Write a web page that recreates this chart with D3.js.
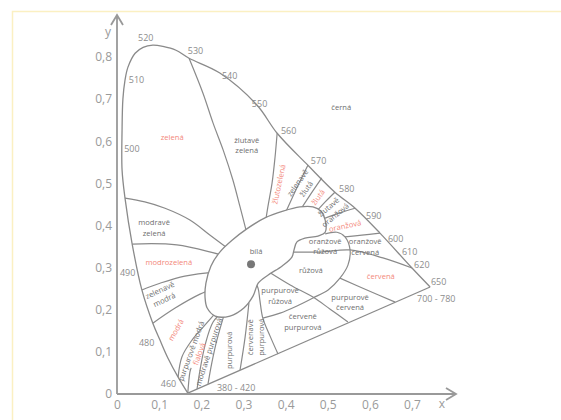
<!DOCTYPE html>
<html><head><meta charset="utf-8">
<script src="https://cdn.jsdelivr.net/npm/d3@7"></script>
<style>body{margin:0;background:#fff}svg{display:block}</style>
</head><body><svg width="561" height="420"></svg>
<script>
// ---- data (CIE 1931 x,y chromaticity) ----
const xTicks = [0,0.1,0.2,0.3,0.4,0.5,0.6,0.7];
const yTicks = [0,0.1,0.2,0.3,0.4,0.5,0.6,0.7,0.8];

const locusX = [0.743,0.700,0.624,0.565,0.517,0.453,0.380,0.332,0.244,0.171,0.140,0.109,0.085,0.062,0.043,0.026,0.019,0.014,0.012,0.012,0.019,0.036,0.059,0.085,0.102,0.121,0.145,0.168];
const locusY = [0.254,0.299,0.382,0.441,0.479,0.543,0.619,0.686,0.762,0.797,0.816,0.825,0.828,0.823,0.809,0.776,0.745,0.700,0.626,0.532,0.465,0.356,0.247,0.168,0.128,0.085,0.040,0.002];

const wlText = ["520","530","540","550","560","570","580","590","600","610","620","650","700 - 780","510","500","490","480","460","380 - 420"];
const wlX = [0.050,0.168,0.249,0.320,0.389,0.460,0.527,0.591,0.643,0.676,0.705,0.745,0.712,0.028,0.017,0.007,0.052,0.104,0.237];
const wlY = [0.845,0.814,0.755,0.688,0.624,0.553,0.486,0.422,0.368,0.337,0.306,0.266,0.225,0.745,0.581,0.287,0.121,0.024,0.014];

const blobX = [0.209,0.211,0.223,0.244,0.273,0.308,0.351,0.394,0.434,0.465,0.484,0.494,0.494,0.477,0.446,0.427,0.420,0.415,0.392,0.358,0.335,0.323,0.301,0.268,0.233,0.214];
const blobY = [0.228,0.263,0.304,0.337,0.365,0.392,0.418,0.434,0.444,0.444,0.434,0.413,0.384,0.375,0.370,0.361,0.342,0.325,0.304,0.282,0.263,0.233,0.204,0.185,0.185,0.204];

const pinkOuter = [[0.494,0.380],[0.522,0.384],[0.541,0.373],[0.553,0.342],[0.548,0.306],[0.529,0.275],[0.501,0.247],[0.465,0.228],[0.427,0.209],[0.387,0.192],[0.346,0.180]];

const bGreen      = [[0.171,0.797],[0.204,0.714],[0.228,0.643],[0.252,0.579],[0.275,0.508],[0.292,0.444],[0.311,0.370]];
const bYelGreen   = [[0.380,0.619],[0.375,0.562],[0.368,0.501],[0.358,0.444],[0.351,0.399]];
const bYG         = [[0.453,0.543],[0.430,0.496],[0.392,0.413]];
const bGY         = [[0.486,0.513],[0.460,0.475],[0.427,0.425]];
const bYellow     = [[0.517,0.479],[0.494,0.456],[0.463,0.422]];
const bYO         = [[0.565,0.441],[0.529,0.430],[0.482,0.413]];
const bOrange     = [[0.624,0.382],[0.581,0.377],[0.541,0.373]];
const bRedOrange  = [[0.406,0.337],[0.482,0.337],[0.553,0.342],[0.631,0.323],[0.700,0.299]];
const bRed        = [[0.529,0.275],[0.593,0.247],[0.660,0.218]];
const bPurpRed    = [[0.354,0.294],[0.411,0.259],[0.465,0.230],[0.505,0.202],[0.548,0.171]];
const bRedPurp    = [[0.325,0.275],[0.335,0.250],[0.339,0.223],[0.346,0.180],[0.363,0.138],[0.382,0.095]];
const bPurple     = [[0.313,0.216],[0.304,0.135],[0.292,0.057]];
const bBluPurp    = [[0.259,0.204],[0.237,0.128],[0.225,0.074],[0.216,0.024]];
const bViolet     = [[0.254,0.199],[0.228,0.171],[0.209,0.116],[0.197,0.057],[0.190,0.012]];
const bPurpBlue   = [[0.168,0.002],[0.173,0.052],[0.176,0.062]];
const bBlue       = [[0.145,0.040],[0.154,0.088],[0.178,0.128],[0.209,0.164],[0.240,0.199]];
const bGrnBlue    = [[0.085,0.168],[0.138,0.204],[0.197,0.237],[0.235,0.252]];
const bBlueGreen  = [[0.059,0.247],[0.102,0.263],[0.161,0.280],[0.240,0.290]];
const bBluGreen   = [[0.036,0.356],[0.142,0.354],[0.259,0.327]];
const bGreenTop   = [[0.019,0.465],[0.066,0.456],[0.114,0.441],[0.173,0.413],[0.221,0.377],[0.268,0.342]];

const labelText = ["zelená","žlutavě\nzelená","modravě\nzelená","modrozelená","zelenavě\nmodrá","modrá","purpurově modrá","fialová","modravě purpurová","purpurová","červenavě\npurpurová","purpurově\nrůžová","červeně\npurpurová","purpurově\nčervená","růžová","červená","oranžově\nrůžová","oranžově\nčervená","oranžová","žlutavě\noranžová","žlutá","zelenavě\nžlutá","žlutozelená","bílá","černá"];
const labelX = [0.131,0.308,0.088,0.123,0.107,0.140,0.176,0.195,0.218,0.266,0.330,0.387,0.441,0.553,0.460,0.626,0.494,0.589,0.541,0.510,0.477,0.439,0.384,0.330,0.532];
const labelY = [0.610,0.590,0.394,0.313,0.235,0.152,0.102,0.095,0.100,0.104,0.135,0.233,0.171,0.218,0.294,0.280,0.351,0.349,0.399,0.434,0.467,0.494,0.498,0.339,0.681];
const labelRed = [1,0,0,1,0,1,0,1,0,0,0,0,0,0,0,1,0,0,1,0,1,0,1,0,0];
const labelRot = [0,0,0,0,-25,-60,-70,-70,-72,-90,-90,0,0,0,0,0,0,0,-12,-40,-55,-55,-78,0,0];

const whitePoint = [0.318,0.308];

// ---- drawing ----
const svg = d3.select("svg");
const FONT = "'Open Sans', sans-serif";
const LINE = "#8a8a8a";
svg.append("rect").attr("x",12.5).attr("y",11.5).attr("width",560).attr("height",420)
  .attr("fill","#fff").attr("stroke","#fbf0c2").attr("stroke-width",1.5);

const x = d3.scaleLinear().domain([0,0.7]).range([117,412]);
const y = d3.scaleLinear().domain([0,0.8]).range([394,57]);

const curve = d3.line().x(d=>x(d[0])).y(d=>y(d[1])).curve(d3.curveCatmullRom.alpha(0.5));
const straight = d3.line().x(d=>x(d[0])).y(d=>y(d[1]));

const g = svg.append("g");
const bounds = [bGreen,bYelGreen,bYG,bGY,bYellow,bYO,bOrange,bRedOrange,bRed,bPurpRed,bRedPurp,bPurple,bBluPurp,bViolet,bPurpBlue,bBlue,bGrnBlue,bBlueGreen,bBluGreen,bGreenTop,pinkOuter];
g.selectAll("path.b").data(bounds).join("path").attr("class","b")
  .attr("d",curve).attr("fill","none").attr("stroke",LINE).attr("stroke-width",1.2);

const locus = locusX.map((v,i)=>[v,locusY[i]]);
g.append("path").attr("d",curve(locus)).attr("fill","none").attr("stroke",LINE).attr("stroke-width",1.3);
g.append("path").attr("d",straight([locus[locus.length-1],locus[0]])).attr("fill","none").attr("stroke",LINE).attr("stroke-width",1.3);

const blob = blobX.map((v,i)=>[v,blobY[i]]);
g.append("path").attr("d",d3.line().x(d=>x(d[0])).y(d=>y(d[1])).curve(d3.curveCatmullRomClosed.alpha(0.5))(blob))
  .attr("fill","#fff").attr("stroke",LINE).attr("stroke-width",1.3);

g.append("circle").attr("cx",x(whitePoint[0])).attr("cy",y(whitePoint[1])).attr("r",4).attr("fill","#777");

// wavelength labels
g.selectAll("text.wl").data(wlText).join("text").attr("class","wl")
  .attr("x",(d,i)=>x(wlX[i])).attr("y",(d,i)=>y(wlY[i])).attr("dy","0.35em")
  .attr("font-family",FONT).attr("font-size",9).attr("fill","#8c8c8c").text(d=>d);

// region labels
const lab = g.selectAll("text.lab").data(labelText).join("text").attr("class","lab")
  .attr("transform",(d,i)=>`translate(${x(labelX[i])},${y(labelY[i])}) rotate(${labelRot[i]})`)
  .attr("text-anchor","middle").attr("font-family",FONT).attr("font-size",7.6)
  .attr("fill",(d,i)=>labelRed[i]?"#f3877a":"#6e6e6e");
lab.each(function(d){
  const lines = d.split("\n");
  const t = d3.select(this);
  lines.forEach((s,k)=>{
    t.append("tspan").attr("x",0).attr("y",(k-(lines.length-1)/2)*10.5).attr("dy","0.35em").text(s);
  });
});

// axes
const fmt = d3.formatLocale({decimal:",",thousands:" ",grouping:[3],currency:["",""]}).format(".1~f");
const xa = svg.append("g").attr("transform","translate(0,394)")
  .call(d3.axisBottom(x).tickValues(xTicks).tickFormat(fmt).tickSize(0).tickPadding(6));
const ya = svg.append("g").attr("transform","translate(117,0)")
  .call(d3.axisLeft(y).tickValues(yTicks).tickFormat(fmt).tickSize(0).tickPadding(5));
[xa,ya].forEach(a=>{
  a.select(".domain").remove();
  a.selectAll("text").attr("font-family",FONT).attr("font-size",12).attr("fill","#9a9a9a");
});
const AX = "#999";
svg.append("path").attr("d","M117,394V15M111,25L117,15L123,25").attr("fill","none").attr("stroke",AX).attr("stroke-width",1.8);
svg.append("path").attr("d","M117,394H456M446,388L456,394L446,400").attr("fill","none").attr("stroke",AX).attr("stroke-width",1.8);
svg.append("text").attr("x",108).attr("y",32).attr("dy","0.35em").attr("text-anchor","middle")
  .attr("font-family",FONT).attr("font-size",12).attr("fill","#9a9a9a").text("y");
svg.append("text").attr("x",442).attr("y",404).attr("dy","0.35em").attr("text-anchor","middle")
  .attr("font-family",FONT).attr("font-size",12).attr("fill","#9a9a9a").text("x");
</script></body></html>
